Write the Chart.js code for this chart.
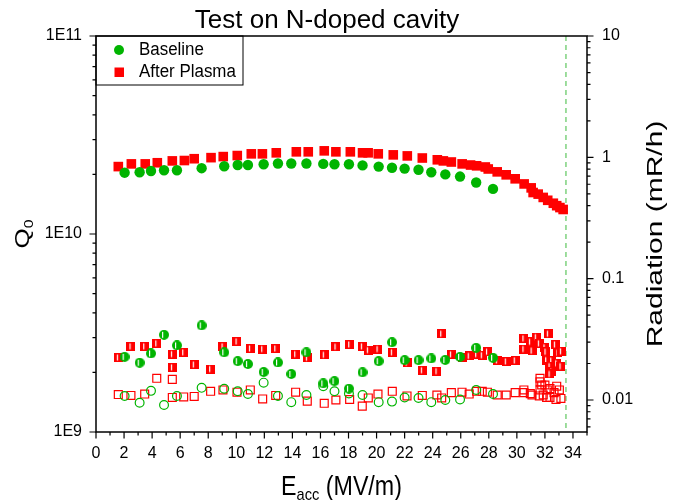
<!DOCTYPE html>
<html lang="en">
<head>
<meta charset="UTF-8">
<title>Test on N-doped cavity</title>
<script src="https://cdn.jsdelivr.net/npm/chart.js"></script>
<style>
  html, body { margin: 0; padding: 0; background: #fff; }
  .wrap { width: 678px; height: 500px; }
</style>
</head>
<body>
<div class="wrap"><canvas id="chart" width="678" height="500"></canvas></div>
<script>
// Baseline: Q0 and the two radiation readings at each field step
const baseE = [2.04, 3.11, 3.92, 4.85, 5.77, 7.53, 9.14, 10.1, 10.83, 11.95, 12.97, 13.92, 15.0, 16.2, 17.0,
  18.03, 19.0, 20.15, 21.1, 22.0, 22.99, 23.9, 24.9, 25.95, 27.1, 28.3];
const baseQ = [2.04e10, 2.05e10, 2.08e10, 2.10e10, 2.10e10, 2.15e10, 2.20e10, 2.23e10, 2.23e10, 2.25e10, 2.27e10,
  2.27e10, 2.27e10, 2.26e10, 2.25e10, 2.25e10, 2.22e10, 2.19e10, 2.16e10, 2.14e10, 2.11e10, 2.05e10, 2.00e10,
  1.95e10, 1.82e10, 1.69e10];
const baseRadA = [0.0227, 0.0203, 0.0242, 0.0345, 0.0282, 0.0412, 0.0247, 0.0209, 0.0198, 0.0170, 0.0204, 0.0164,
  0.0247, 0.0137, 0.0143, 0.0124, 0.0169, 0.0209, 0.0299, 0.0213, 0.0213, 0.0220, 0.0214, 0.0227, 0.0269, 0.0223];
const baseRadB = [0.0108, 0.0095, 0.0119, 0.0091, 0.0108, 0.0126, 0.0124, 0.0118, 0.0112, 0.0139, 0.0108, 0.0096,
  0.0110, 0.0130, 0.0118, 0.0113, 0.0110, 0.0096, 0.0097, 0.0105, 0.0104, 0.0096, 0.0100, 0.0101, 0.0121, 0.0112];

// After plasma processing
const plasmaE = [1.59, 2.52, 3.51, 4.37, 5.44, 6.3, 7.0, 8.2, 9.07, 10.07, 11.07, 11.86, 12.85, 14.28, 15.13, 16.27,
  17.1, 18.13, 19.0, 19.4, 20.12, 21.19, 22.19, 23.26, 24.33, 24.76, 25.33, 26.1, 26.7, 27.13, 27.75, 27.96, 28.6,
  29.24, 29.88, 30.52, 31.02, 31.16, 31.52, 31.88, 32.2, 32.6, 32.84, 33.07, 33.3];
const plasmaQ = [2.19e10, 2.26e10, 2.26e10, 2.29e10, 2.34e10, 2.35e10, 2.40e10, 2.43e10, 2.46e10, 2.49e10, 2.54e10,
  2.54e10, 2.57e10, 2.60e10, 2.60e10, 2.63e10, 2.60e10, 2.60e10, 2.57e10, 2.57e10, 2.54e10, 2.51e10, 2.48e10,
  2.42e10, 2.37e10, 2.34e10, 2.31e10, 2.26e10, 2.23e10, 2.21e10, 2.18e10, 2.13e10, 2.06e10, 1.99e10, 1.90e10,
  1.79e10, 1.71e10, 1.62e10, 1.59e10, 1.53e10, 1.48e10, 1.43e10, 1.39e10, 1.36e10, 1.33e10];
const plasmaRadAE = [1.59, 2.49, 3.47, 4.33, 5.44, 5.44, 6.25, 7.0, 8.17, 9.05, 10.05, 11.0, 11.88, 12.81, 14.23,
  15.06, 16.27, 17.1, 18.08, 18.98, 19.41, 20.1, 21.12, 22.17, 23.26, 24.3, 24.64, 25.33, 26.09, 26.6, 27.13, 27.53,
  27.9, 28.6, 29.24, 29.88, 30.5, 30.5, 30.96, 31.08, 31.38, 31.6, 32.0, 32.07, 32.24, 32.74, 32.93, 33.17, 32.12,
  32.48, 32.36, 32.84, 33.14, 32.48, 32.36];
const plasmaRadA = [0.0224, 0.0277, 0.0277, 0.0293, 0.0239, 0.0186, 0.0247, 0.0196, 0.0180, 0.0277, 0.0304, 0.0266,
  0.0263, 0.0266, 0.0239, 0.0223, 0.0236, 0.0275, 0.0287, 0.0277, 0.0258, 0.0263, 0.0247, 0.0203, 0.0176, 0.0173,
  0.0352, 0.0238, 0.0224, 0.0231, 0.0239, 0.0234, 0.0250, 0.0212, 0.0208, 0.0212, 0.0322, 0.0263, 0.0302, 0.0255,
  0.0330, 0.0293, 0.0272, 0.0250, 0.0352, 0.0287, 0.0245, 0.0252, 0.0213, 0.0211, 0.0190, 0.0201, 0.0190, 0.0171,
  0.0164];
const plasmaRadBE = [1.59, 2.49, 3.47, 4.33, 5.44, 5.44, 6.25, 7.0, 8.17, 9.05, 10.05, 11.0, 11.88, 12.81, 14.23,
  15.06, 16.27, 17.1, 18.08, 18.98, 19.41, 20.1, 21.12, 22.17, 23.26, 24.3, 24.64, 25.33, 26.09, 26.6, 27.13, 27.53,
  27.9, 28.6, 29.24, 29.88, 30.5, 30.5, 30.96, 31.08, 31.65, 31.65, 31.77, 31.65, 31.6, 32.0, 32.17, 32.36, 32.36,
  32.65, 32.84, 33.03, 33.14, 32.79, 32.12, 31.88];
const plasmaRadB = [0.0111, 0.0109, 0.0112, 0.0151, 0.0148, 0.0105, 0.0106, 0.0107, 0.0118, 0.0121, 0.0116, 0.0121,
  0.0102, 0.0109, 0.0116, 0.0098, 0.0094, 0.0100, 0.0101, 0.0089, 0.0104, 0.0112, 0.0118, 0.0108, 0.0109, 0.0110,
  0.0104, 0.0115, 0.0116, 0.0112, 0.0118, 0.0118, 0.0116, 0.0110, 0.0110, 0.0115, 0.0121, 0.0115, 0.0113, 0.0110,
  0.0151, 0.0141, 0.0133, 0.0121, 0.0108, 0.0133, 0.0121, 0.0124, 0.0105, 0.0115, 0.0130, 0.0121, 0.0103, 0.0101,
  0.0105, 0.0110];

// axes
const xTicks = [0, 2, 4, 6, 8, 10, 12, 14, 16, 18, 20, 22, 24, 26, 28, 30, 32, 34];
const qTicks = [1e9, 1e10, 1e11];
const qTickLabels = ['1E9', '1E10', '1E11'];
const radTicks = [0.01, 0.1, 1, 10];
const radTickLabels = ['0.01', '0.1', '1', '10'];
const quenchE = 33.5;

const GREEN = '#00b400';
const RED = '#ff0000';
const FONT = 'Arial, "Liberation Sans", sans-serif';

function pts(xs, ys) {
  return xs.map((x, i) => ({x: x, y: ys[i]}));
}

// half filled marker: solid with a thin white stripe left of centre
function halfMarker(shape, color, d) {
  const c = document.createElement('canvas');
  c.width = d;
  c.height = d;
  const g = c.getContext('2d');
  g.fillStyle = color;
  g.beginPath();
  if (shape === 'circle') g.arc(d / 2, d / 2, d / 2, 0, Math.PI * 2);
  else g.rect(0, 0, d, d);
  g.fill();
  g.fillStyle = '#fff';
  if (shape === 'circle') g.fillRect(3, 2, 1.2, d - 4);
  else g.fillRect(3, 1.5, 1.2, d - 3);
  return c;
}

function logTicks(s) {
  const out = [];
  for (let e = Math.floor(Math.log10(s.min)); e <= Math.ceil(Math.log10(s.max)); e++) {
    for (let m = 1; m < 10; m++) {
      const v = m * Math.pow(10, e);
      if (v >= s.min * 0.999 && v <= s.max * 1.001) out.push([v, m === 1]);
    }
  }
  return out;
}

// text squeezed along its own width, like the exported original
function narrowText(ctx, s, x, y, k) {
  ctx.save();
  ctx.translate(x, y);
  ctx.scale(k, 1);
  ctx.fillText(s, 0, 0);
  ctx.restore();
}

const decor = {
  id: 'decor',
  beforeDatasetsDraw(chart) {
    const {ctx, chartArea: a, scales: {x}} = chart;
    const px = x.getPixelForValue(quenchE);
    ctx.save();
    ctx.strokeStyle = '#6acb6a';
    ctx.lineWidth = 1.3;
    ctx.setLineDash([5, 4]);
    ctx.beginPath();
    ctx.moveTo(px, a.top);
    ctx.lineTo(px, a.bottom);
    ctx.stroke();
    ctx.restore();
  },
  afterDraw(chart) {
    const {ctx, chartArea: a, scales: {x, y, y2}} = chart;
    ctx.save();
    ctx.strokeStyle = '#000';
    ctx.lineWidth = 1.5;
    ctx.strokeRect(a.left, a.top, a.right - a.left, a.bottom - a.top);

    // tick marks, minor ones shorter
    ctx.lineWidth = 1.2;
    ctx.beginPath();
    for (let v = 0; v <= 35; v++) {
      const p = x.getPixelForValue(v);
      ctx.moveTo(p, a.bottom);
      ctx.lineTo(p, a.bottom + (v % 2 ? 3.5 : 6.5));
    }
    logTicks(y).forEach(([v, major]) => {
      const p = y.getPixelForValue(v);
      ctx.moveTo(a.left, p);
      ctx.lineTo(a.left - (major ? 6.5 : 3.5), p);
    });
    logTicks(y2).forEach(([v, major]) => {
      const p = y2.getPixelForValue(v);
      ctx.moveTo(a.right, p);
      ctx.lineTo(a.right + (major ? 6.5 : 3.5), p);
    });
    ctx.stroke();

    // legend box
    ctx.lineWidth = 1;
    ctx.strokeRect(a.left, a.top, 147, 49);
    ctx.fillStyle = GREEN;
    ctx.beginPath();
    ctx.arc(a.left + 23, a.top + 14, 5, 0, Math.PI * 2);
    ctx.fill();
    ctx.fillStyle = RED;
    ctx.fillRect(a.left + 18.5, a.top + 31.5, 9.5, 9.5);
    ctx.fillStyle = '#000';
    ctx.font = '18px ' + FONT;
    ctx.textBaseline = 'middle';
    ctx.textAlign = 'left';
    narrowText(ctx, chart.data.datasets[0].label, a.left + 43, a.top + 14, 0.94);
    narrowText(ctx, chart.data.datasets[1].label, a.left + 43, a.top + 36, 0.94);

    // title
    ctx.font = '26px ' + FONT;
    ctx.textAlign = 'center';
    ctx.textBaseline = 'alphabetic';
    ctx.fillText('Test on N-doped cavity', 327, 28);

    // x title with subscript
    const big = '27px ' + FONT, small = '17px ' + FONT, k = 0.86;
    ctx.font = big;
    const wE = ctx.measureText('E').width * k, wU = ctx.measureText(' (MV/m)').width * k;
    ctx.font = small;
    const wS = ctx.measureText('acc').width * k;
    let sx = (a.left + a.right) / 2 - (wE + wS + wU) / 2;
    ctx.textAlign = 'left';
    ctx.font = big;
    narrowText(ctx, 'E', sx, 495, k);
    ctx.font = small;
    narrowText(ctx, 'acc', sx + wE, 500, k);
    ctx.font = big;
    narrowText(ctx, ' (MV/m)', sx + wE + wS, 495, k);

    // left title Q0 (rotated, glyphs squeezed across the line)
    ctx.save();
    ctx.translate(29, (a.top + a.bottom) / 2);
    ctx.rotate(-Math.PI / 2);
    ctx.scale(1, 0.8);
    ctx.font = '26px ' + FONT;
    const wQ = ctx.measureText('Q').width;
    ctx.font = '16px ' + FONT;
    const w0 = ctx.measureText('0').width;
    sx = -(wQ + w0) / 2;
    ctx.font = '26px ' + FONT;
    ctx.fillText('Q', sx, 0);
    ctx.font = '16px ' + FONT;
    ctx.fillText('0', sx + wQ, 5);
    ctx.restore();

    // right title
    ctx.save();
    ctx.translate(662, (a.top + a.bottom) / 2);
    ctx.rotate(-Math.PI / 2);
    ctx.scale(1, 0.76);
    ctx.font = '30px ' + FONT;
    ctx.textAlign = 'center';
    ctx.fillText('Radiation (mR/h)', 0, 0);
    ctx.restore();

    ctx.restore();
  }
};

const tickFont = {family: FONT, size: 16};

new Chart(document.getElementById('chart'), {
  type: 'scatter',
  data: {
    datasets: [
      {label: 'Baseline', data: pts(baseE, baseQ), yAxisID: 'y',
        pointStyle: 'circle', pointRadius: 5.2, backgroundColor: GREEN, borderColor: GREEN, borderWidth: 0},
      {label: 'After Plasma', data: pts(plasmaE, plasmaQ), yAxisID: 'y',
        pointStyle: 'rect', pointRadius: 6.8, backgroundColor: RED, borderColor: RED, borderWidth: 0},
      {label: 'Baseline radiation A', data: pts(baseE, baseRadA), yAxisID: 'y2',
        pointStyle: halfMarker('circle', GREEN, 10), pointRadius: 5},
      {label: 'Baseline radiation B', data: pts(baseE, baseRadB), yAxisID: 'y2',
        pointStyle: 'circle', pointRadius: 4.4, backgroundColor: 'rgba(0,0,0,0)', borderColor: GREEN, borderWidth: 1.2},
      {label: 'After Plasma radiation A', data: pts(plasmaRadAE, plasmaRadA), yAxisID: 'y2',
        pointStyle: halfMarker('square', RED, 9), pointRadius: 4.5},
      {label: 'After Plasma radiation B', data: pts(plasmaRadBE, plasmaRadB), yAxisID: 'y2',
        pointStyle: 'rect', pointRadius: 5.6, backgroundColor: 'rgba(0,0,0,0)', borderColor: RED, borderWidth: 1.2}
    ]
  },
  options: {
    responsive: false,
    animation: false,
    layout: {padding: {top: 36, left: 0, right: 0, bottom: 0}},
    plugins: {
      legend: {display: false},
      title: {display: false},
      tooltip: {enabled: false}
    },
    scales: {
      x: {
        type: 'linear', min: 0, max: 35,
        grid: {display: false, drawTicks: false}, border: {display: false},
        afterBuildTicks: s => { s.ticks = xTicks.map(v => ({value: v})); },
        ticks: {autoSkip: false, maxRotation: 0, padding: 12, color: '#000', font: tickFont,
          callback: v => String(v)},
        afterFit: s => { s.height = 68; }
      },
      y: {
        type: 'logarithmic', position: 'left', min: 1e9, max: 1e11,
        grid: {display: false, drawTicks: false}, border: {display: false},
        afterBuildTicks: s => { s.ticks = qTicks.map(v => ({value: v})); },
        ticks: {autoSkip: false, padding: 14, color: '#000', font: tickFont,
          callback: (v, i) => qTickLabels[i]},
        afterFit: s => { s.width = 96; }
      },
      y2: {
        type: 'logarithmic', position: 'right', min: 0.00545, max: 10,
        grid: {display: false, drawTicks: false}, border: {display: false},
        afterBuildTicks: s => { s.ticks = radTicks.map(v => ({value: v})); },
        ticks: {autoSkip: false, padding: 15, color: '#000', font: tickFont,
          callback: (v, i) => radTickLabels[i]},
        afterFit: s => { s.width = 91; }
      }
    }
  },
  plugins: [decor]
});
</script>
</body>
</html>
